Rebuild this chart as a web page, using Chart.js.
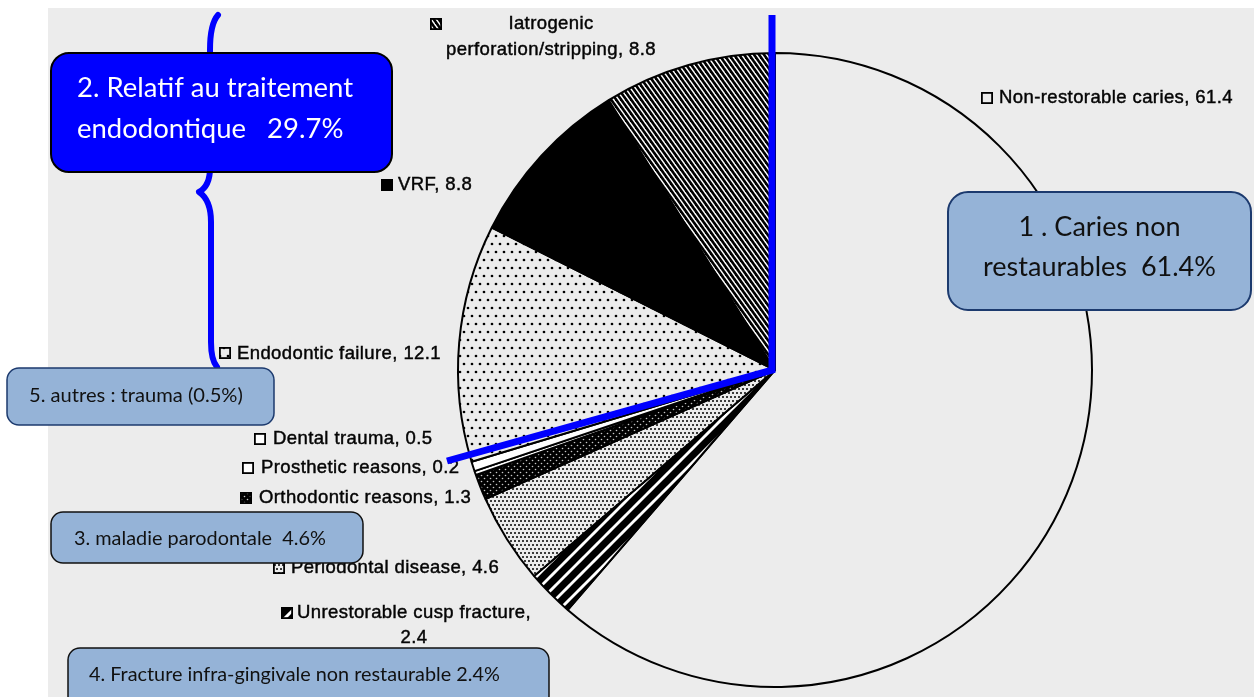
<!DOCTYPE html>
<html>
<head>
<meta charset="utf-8">
<script src="https://cdn.jsdelivr.net/npm/chart.js@4.4.1/dist/chart.umd.min.js"></script>
<style>
  html, body { margin: 0; padding: 0; background: #ffffff; overflow: hidden; }
  canvas { display: block; }
</style>
</head>
<body>
<canvas id="c" width="1254" height="697"></canvas>
<script>
// Reasons for tooth extraction (%), clockwise from 12 o'clock
const categories = [
  'Non-restorable caries',
  'Unrestorable cusp fracture',
  'Periodontal disease',
  'Orthodontic reasons',
  'Prosthetic reasons',
  'Dental trauma',
  'Endodontic failure',
  'VRF',
  'Iatrogenic perforation/stripping'
];
const values = [61.4, 2.4, 4.6, 1.3, 0.2, 0.5, 12.1, 8.8, 8.8];

// Grouped categories (indices into the arrays above)
const groupCaries = [0];
const groupEndo = [6, 7, 8];
const groupPerio = [2];
const groupFracture = [1];
const groupOther = [5];

const BG = '#ececec';

// ---- fill patterns ----
function tile(w, h, bg, paint) {
  const c = document.createElement('canvas');
  c.width = w; c.height = h;
  const g = c.getContext('2d');
  g.fillStyle = bg; g.fillRect(0, 0, w, h);
  paint(g, w, h);
  return g.createPattern(c, 'repeat');
}
function backStripes(w, h, lw, fg, bg) {
  return tile(w, h, bg, (g) => {
    g.strokeStyle = fg; g.lineWidth = lw;
    for (const k of [-w, 0, w]) {
      g.beginPath(); g.moveTo(k - w, -h); g.lineTo(k + 2 * w, 2 * h); g.stroke();
    }
  });
}
function fwdStripes(w, h, lw, fg, bg) {
  return tile(w, h, bg, (g) => {
    g.strokeStyle = fg; g.lineWidth = lw;
    for (const k of [-w, 0, w]) {
      g.beginPath(); g.moveTo(k - w, 2 * h); g.lineTo(k + 2 * w, -h); g.stroke();
    }
  });
}
function dots(w, h, pts, r, fg, bg) {
  return tile(w, h, bg, (g) => {
    g.fillStyle = fg;
    for (const [x, y] of pts) { g.beginPath(); g.arc(x, y, r, 0, Math.PI * 2); g.fill(); }
  });
}

const fills = [
  BG,                                                                  // caries
  fwdStripes(14, 14, 7, '#000', '#fff'),                               // cusp fracture
  dots(8, 8, [[1, 1], [5, 1], [3, 5], [7, 5], [-1, 5]], 1.0, '#000', BG), // periodontal
  dots(6, 6, [[1.5, 1.5], [4.5, 4.5]], 0.8, '#c8c8c8', '#000'),        // orthodontic
  '#ffffff',                                                           // prosthetic
  '#ffffff',                                                           // trauma
  dots(16, 16, [[4, 4], [12, 4], [0, 12], [8, 12], [16, 12]], 1.35, '#000', BG), // endodontic failure
  '#000000',                                                           // VRF
  backStripes(5, 7, 2.6, '#000', '#fff')                               // iatrogenic
];

// ---- slice labels: marker box + text ----
const labelLayout = [
  { i: 0, mx: 981, my: 92, tx: 999, ty: 98 },
  { i: 1, mx: 281, my: 607, cx: 414, ty: 613, wrap: 'value', gap: 25 },
  { i: 2, mx: 273, my: 562, tx: 291, ty: 568 },
  { i: 3, mx: 240, my: 492, tx: 259, ty: 498 },
  { i: 4, mx: 242, my: 462, tx: 261, ty: 468 },
  { i: 5, mx: 254, my: 433, tx: 273, ty: 439 },
  { i: 6, mx: 219, my: 347, tx: 237, ty: 354 },
  { i: 7, mx: 381, my: 179, tx: 398, ty: 185 },
  { i: 8, mx: 430, my: 18, cx: 551, ty: 24, wrap: 'word', gap: 26 }
];

function labelLines(l) {
  const name = categories[l.i], v = values[l.i];
  if (l.wrap === 'word') {
    const sp = name.indexOf(' ');
    return [name.slice(0, sp), name.slice(sp + 1) + ', ' + v];
  }
  if (l.wrap === 'value') return [name + ',', String(v)];
  return [name + ', ' + v];
}

const sumOf = (idx) => idx.reduce((s, i) => s + values[i], 0).toFixed(1);

// ---- annotation boxes ----
const boxes = [
  { x: 948, y: 192, w: 303, h: 118, r: 20, fill: '#95b3d7', stroke: '#1c3a6e', lw: 2, color: '#111',
    align: 'center', tx: 1099.5, base: [236, 276], fitLine: 1, fitW: 233,
    lines: ['1 . Caries non', 'restaurables  ' + sumOf(groupCaries) + '%'] },
  { x: 51, y: 53, w: 341, h: 119, r: 18, fill: '#0000ff', stroke: '#000', lw: 2, color: '#fff',
    align: 'left', tx: 77, base: [97, 138], fitLine: 0, fitW: 276,
    lines: ['2. Relatif au traitement', 'endodontique   ' + sumOf(groupEndo) + '%'] },
  { x: 51, y: 512, w: 312, h: 51, r: 12, fill: '#95b3d7', stroke: '#111', lw: 1.5, color: '#111',
    align: 'left', tx: 74, base: [545], fitLine: 0, fitW: 252,
    lines: ['3. maladie parodontale  ' + sumOf(groupPerio) + '%'] },
  { x: 68, y: 648, w: 481, h: 60, r: 12, fill: '#95b3d7', stroke: '#111', lw: 1.5, color: '#111',
    align: 'left', tx: 89, base: [681], fitLine: 0, fitW: 411,
    lines: ['4. Fracture infra-gingivale non restaurable ' + sumOf(groupFracture) + '%'] },
  { x: 7, y: 368, w: 267, h: 57, r: 12, fill: '#95b3d7', stroke: '#1c3a6e', lw: 1.5, color: '#111',
    align: 'left', tx: 29, base: [402], fitLine: 0, fitW: 214,
    lines: ['5. autres : trauma (' + sumOf(groupOther) + '%)'] }
];

const BOX_FONT = 'Lato, "Open Sans", sans-serif';
const LABEL_FONT = '"Liberation Sans", Arial, sans-serif';

function roundRect(ctx, x, y, w, h, r) {
  ctx.beginPath();
  ctx.moveTo(x + r, y);
  ctx.lineTo(x + w - r, y);
  ctx.arcTo(x + w, y, x + w, y + r, r);
  ctx.lineTo(x + w, y + h - r);
  ctx.arcTo(x + w, y + h, x + w - r, y + h, r);
  ctx.lineTo(x + r, y + h);
  ctx.arcTo(x, y + h, x, y + h - r, r);
  ctx.lineTo(x, y + r);
  ctx.arcTo(x, y, x + r, y, r);
  ctx.closePath();
}

const decor = {
  id: 'decor',
  beforeDraw(chart) {
    const ctx = chart.ctx;
    ctx.save();
    ctx.fillStyle = '#ffffff';
    ctx.fillRect(0, 0, chart.width, chart.height);
    ctx.fillStyle = BG;
    ctx.fillRect(48, 8, chart.width - 48, chart.height - 8);
    ctx.restore();
  },
  afterDraw(chart) {
    const ctx = chart.ctx;
    const arc = chart.getDatasetMeta(0).data[0];
    const cx = arc.x, cy = arc.y;

    // slice labels
    ctx.save();
    ctx.font = '18.5px ' + LABEL_FONT;
    ctx.letterSpacing = '0.4px';
    ctx.textBaseline = 'middle';
    for (const l of labelLayout) {
      ctx.fillStyle = fills[l.i];
      ctx.fillRect(l.mx, l.my, 12, 12);
      ctx.strokeStyle = '#000'; ctx.lineWidth = 1.8;
      ctx.strokeRect(l.mx + 0.9, l.my + 0.9, 10.2, 10.2);
      ctx.fillStyle = '#050505';
      ctx.strokeStyle = '#050505';
      ctx.lineWidth = 0.45;
      const lines = labelLines(l);
      lines.forEach((t, k) => {
        let x, y;
        if (l.cx !== undefined) { ctx.textAlign = 'center'; x = l.cx; y = l.ty + k * l.gap; }
        else { ctx.textAlign = 'left'; x = l.tx; y = l.ty + k * (l.gap || 0); }
        ctx.fillText(t, x, y);
        ctx.strokeText(t, x, y);
      });
    }
    ctx.restore();

    // blue guide lines
    ctx.save();
    ctx.strokeStyle = '#0000ff';
    ctx.lineWidth = 7;
    ctx.lineJoin = 'miter';
    ctx.beginPath();
    ctx.moveTo(cx - 3, 15);
    ctx.lineTo(cx - 3, cy);
    ctx.lineTo(447, 461);
    ctx.stroke();

    // curly brace
    ctx.lineWidth = 6;
    ctx.lineCap = 'round';
    ctx.lineJoin = 'round';
    ctx.beginPath();
    ctx.moveTo(218, 15);
    ctx.quadraticCurveTo(210, 24, 210, 50);
    ctx.lineTo(210, 168);
    ctx.quadraticCurveTo(210, 186, 199, 192);
    ctx.quadraticCurveTo(211, 200, 211, 222);
    ctx.lineTo(211, 342);
    ctx.quadraticCurveTo(211, 360, 217, 367);
    ctx.stroke();
    ctx.restore();

    // annotation boxes
    for (const b of boxes) {
      ctx.save();
      roundRect(ctx, b.x, b.y, b.w, b.h, b.r);
      ctx.fillStyle = b.fill; ctx.fill();
      ctx.strokeStyle = b.stroke; ctx.lineWidth = b.lw; ctx.stroke();
      ctx.font = '100px ' + BOX_FONT;
      const size = 100 * b.fitW / ctx.measureText(b.lines[b.fitLine]).width;
      ctx.font = size.toFixed(2) + 'px ' + BOX_FONT;
      ctx.fillStyle = b.color;
      ctx.textBaseline = 'alphabetic';
      ctx.textAlign = b.align;
      b.lines.forEach((t, k) => ctx.fillText(t, b.tx, b.base[k]));
      ctx.restore();
    }
  }
};

new Chart(document.getElementById('c'), {
  type: 'pie',
  data: {
    labels: categories,
    datasets: [{
      data: values,
      backgroundColor: fills,
      borderColor: '#000',
      borderWidth: 2,
      offset: 0,
      hoverOffset: 0,
      radius: 317
    }]
  },
  options: {
    responsive: false,
    devicePixelRatio: 1,
    animation: false,
    events: [],
    layout: { padding: { left: 458, right: 162, top: 53, bottom: 10 } },
    plugins: {
      legend: { display: false },
      tooltip: { enabled: false },
      title: { display: false }
    }
  },
  plugins: [decor]
});
</script>
</body>
</html>
